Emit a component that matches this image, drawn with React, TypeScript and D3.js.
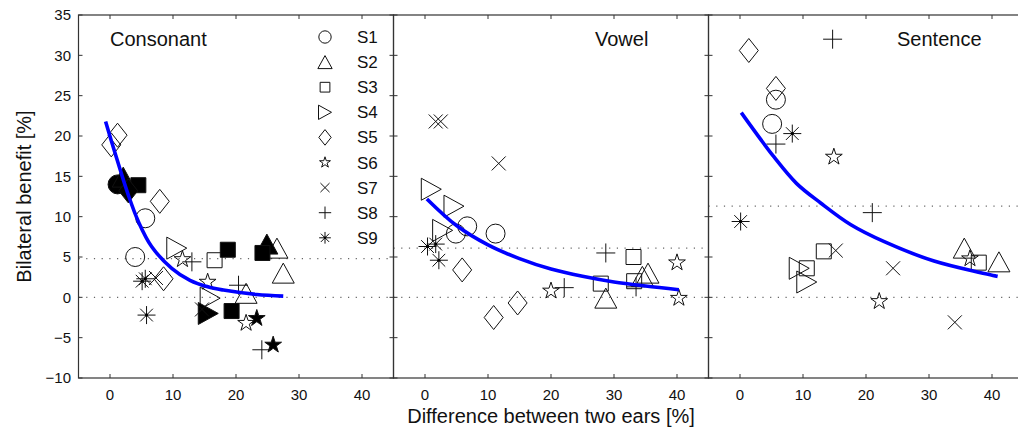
import { useEffect, useRef } from 'react';
import * as d3 from 'd3';

const subjects = ['S1', 'S2', 'S3', 'S4', 'S5', 'S6', 'S7', 'S8', 'S9'];
const shapes = ['circle', 'triUp', 'square', 'triRight', 'diamond', 'star', 'x', 'plus', 'asterisk'];
const panelTitles = ['Consonant', 'Vowel', 'Sentence'];
const xTicks = [0, 10, 20, 30, 40];
const yTicks = [-10, -5, 0, 5, 10, 15, 20, 25, 30, 35];
const refLevels = [4.8, 6.1, 11.3];

// [subject, difference, benefit, filled]
const consonantPoints: [string, number, number, boolean][] = [
    ['S1', 5.6, 9.8, false], ['S1', 4.0, 5.0, false], ['S1', 1.2, 14.0, true],
    ['S2', 26.5, 6.1, false], ['S2', 27.5, 3.0, false], ['S2', 21.6, 0.5, false], ['S2', 24.9, 6.6, true], ['S2', 2.1, 14.9, true],
    ['S3', 16.6, 4.6, false], ['S3', 18.7, 5.9, true], ['S3', 24.2, 5.5, true], ['S3', 19.3, -1.7, true], ['S3', 4.5, 13.9, true],
    ['S4', 10.6, 6.1, false], ['S4', 15.9, -0.1, false], ['S4', 15.6, -2.0, true],
    ['S5', 0.2, 18.9, false], ['S5', 1.2, 20.1, false], ['S5', 7.9, 11.9, false], ['S5', 8.5, 2.3, false], ['S5', 2.9, 13.2, true],
    ['S6', 11.5, 4.7, false], ['S6', 15.5, 1.9, false], ['S6', 21.6, -3.2, false], ['S6', 23.3, -2.6, true], ['S6', 25.9, -5.9, true],
    ['S7', 7.3, 2.4, false], ['S7', 14.6, -1.5, false],
    ['S8', 13.0, 4.4, false], ['S8', 20.4, 1.5, false], ['S8', 24.1, -6.5, false],
    ['S9', 5.1, 2.0, false], ['S9', 5.6, 2.3, false], ['S9', 5.8, -2.2, false],
];

const vowelPoints: [string, number, number, boolean][] = [
    ['S1', 6.7, 8.8, false], ['S1', 4.9, 7.9, false], ['S1', 11.2, 7.9, false],
    ['S2', 28.7, -0.1, false], ['S2', 35.4, 3.0, false], ['S2', 34.5, 2.6, false],
    ['S3', 33.1, 5.0, false], ['S3', 27.9, 1.7, false], ['S3', 33.2, 2.0, false],
    ['S4', 1.0, 13.4, false], ['S4', 4.6, 11.3, false], ['S4', 2.8, 8.3, false],
    ['S5', 5.9, 3.4, false], ['S5', 10.9, -2.5, false], ['S5', 14.7, -0.7, false],
    ['S6', 20.0, 0.8, false], ['S6', 40.0, 4.3, false], ['S6', 40.3, -0.1, false],
    ['S7', 1.7, 21.8, false], ['S7', 2.5, 21.8, false], ['S7', 11.7, 16.6, false],
    ['S8', 22.1, 1.2, false], ['S8', 28.7, 5.5, false], ['S8', 33.5, 1.3, false],
    ['S9', 0.4, 6.3, false], ['S9', 1.7, 6.6, false], ['S9', 2.2, 4.6, false],
];

const sentencePoints: [string, number, number, boolean][] = [
    ['S1', 5.7, 24.5, false], ['S1', 5.1, 21.5, false],
    ['S2', 35.6, 6.1, false], ['S2', 41.1, 4.4, false],
    ['S3', 13.3, 5.7, false], ['S3', 10.6, 3.6, false], ['S3', 37.9, 4.3, false],
    ['S4', 9.4, 3.6, false], ['S4', 10.6, 1.9, false],
    ['S5', 1.4, 30.6, false], ['S5', 5.7, 25.9, false],
    ['S6', 14.9, 17.4, false], ['S6', 22.1, -0.5, false], ['S6', 36.5, 4.8, false],
    ['S7', 15.2, 5.8, false], ['S7', 24.3, 3.6, false], ['S7', 34.1, -3.1, false],
    ['S8', 14.7, 32.0, false], ['S8', 5.7, 19.0, false], ['S8', 21.0, 10.5, false],
    ['S9', 8.3, 20.3, false], ['S9', 0.1, 9.4, false],
];

// fitted curves
const consonantFitX = [-0.7, 0.8, 2.9, 4.5, 6.6, 9.8, 12.7, 15.5, 18.0, 23.3, 27.5];
const consonantFitY = [21.8, 17.9, 12.7, 9.4, 6.3, 3.6, 2.1, 1.3, 0.9, 0.35, 0.15];
const vowelFitX = [0.3, 5, 10, 15, 20, 25, 30, 35, 40.3];
const vowelFitY = [12.2, 8.9, 6.5, 4.8, 3.5, 2.6, 1.9, 1.4, 0.95];
const sentenceFitX = [0.2, 5.4, 9, 12.8, 17.6, 22.9, 30.8, 40.9];
const sentenceFitY = [22.9, 17.4, 14.1, 11.7, 9.0, 6.9, 4.5, 2.6];

const panelPoints = [consonantPoints, vowelPoints, sentencePoints];
const panelFits = [
    [consonantFitX, consonantFitY],
    [vowelFitX, vowelFitY],
    [sentenceFitX, sentenceFitY],
];

const FONT = 'Liberation Sans, Arial, Helvetica, sans-serif';

const markerPath = (shape: string, s: number) => {
    const p = d3.path();
    switch (shape) {
        case 'circle':
            p.moveTo(9.5 * s, 0);
            p.arc(0, 0, 9.5 * s, 0, Math.PI * 2);
            break;
        case 'triUp':
            p.moveTo(0, -10 * s); p.lineTo(11 * s, 10 * s); p.lineTo(-11 * s, 10 * s); p.closePath();
            break;
        case 'triRight':
            p.moveTo(10 * s, 0); p.lineTo(-10 * s, 11 * s); p.lineTo(-10 * s, -11 * s); p.closePath();
            break;
        case 'square':
            p.rect(-7.5 * s, -7.5 * s, 15 * s, 15 * s);
            break;
        case 'diamond':
            p.moveTo(0, -12 * s); p.lineTo(9.5 * s, 0); p.lineTo(0, 12 * s); p.lineTo(-9.5 * s, 0); p.closePath();
            break;
        case 'star': {
            const R = 8.8 * s, r = R * 0.382;
            for (let i = 0; i < 10; i++) {
                const a = -Math.PI / 2 + (i * Math.PI) / 5;
                const rr = i % 2 === 0 ? R : r;
                if (i === 0) p.moveTo(rr * Math.cos(a), rr * Math.sin(a));
                else p.lineTo(rr * Math.cos(a), rr * Math.sin(a));
            }
            p.closePath();
            break;
        }
        case 'x':
            p.moveTo(-7 * s, -7 * s); p.lineTo(7 * s, 7 * s);
            p.moveTo(-7 * s, 7 * s); p.lineTo(7 * s, -7 * s);
            break;
        case 'plus':
            p.moveTo(-9.5 * s, 0); p.lineTo(9.5 * s, 0);
            p.moveTo(0, -9.5 * s); p.lineTo(0, 9.5 * s);
            break;
        case 'asterisk': {
            const d = 9 * s, e = d * 0.707;
            p.moveTo(-d, 0); p.lineTo(d, 0);
            p.moveTo(0, -d); p.lineTo(0, d);
            p.moveTo(-e, -e); p.lineTo(e, e);
            p.moveTo(-e, e); p.lineTo(e, -e);
            break;
        }
    }
    return p.toString();
};

const App = () => {
    const ref = useRef<SVGSVGElement>(null);
    const width = 1018,
        height = 435;
    const left = 78.5,
        panelW = 315,
        top = 15,
        bottom = 378;

    useEffect(() => {
        const svg = d3.select(ref.current).attr('width', width).attr('height', height);
        svg.selectAll('*').remove();

        const y = d3.scaleLinear().domain([-10, 35]).range([bottom, top]);

        panelTitles.forEach((title, pi) => {
            const x0 = left + pi * panelW;
            const x = d3.scaleLinear().domain([-5, 45]).range([x0, x0 + panelW]);
            const g = svg.append('g');

            // dotted reference lines
            [0, refLevels[pi]].forEach((lv) => {
                g.append('line')
                    .attr('x1', x0).attr('x2', x0 + panelW)
                    .attr('y1', y(lv)).attr('y2', y(lv))
                    .attr('stroke', '#666')
                    .attr('stroke-width', 1.2)
                    .attr('stroke-dasharray', '1.2,6.5');
            });

            // markers
            panelPoints[pi].forEach(([sub, dx, dy, filled]) => {
                const shape = shapes[subjects.indexOf(sub)];
                g.append('path')
                    .attr('d', markerPath(shape, 1))
                    .attr('transform', `translate(${x(dx)},${y(dy)})`)
                    .attr('fill', filled ? '#000' : 'none')
                    .attr('stroke', '#111')
                    .attr('stroke-width', 1);
                if (shape === 'asterisk') {
                    g.append('circle').attr('cx', x(dx)).attr('cy', y(dy)).attr('r', 1.6).attr('fill', '#000');
                }
            });

            // fitted curve
            const [fx, fy] = panelFits[pi];
            const line = d3.line<number>()
                .x((d) => x(d))
                .y((_, i) => y(fy[i]))
                .curve(d3.curveCatmullRom.alpha(0.5));
            g.append('path')
                .attr('d', line(fx))
                .attr('fill', 'none')
                .attr('stroke', '#0000ff')
                .attr('stroke-width', 3.6);

            // frame
            g.append('rect')
                .attr('x', x0).attr('y', top)
                .attr('width', panelW).attr('height', bottom - top)
                .attr('fill', 'none')
                .attr('stroke', '#333')
                .attr('stroke-width', 1.2);

            // ticks
            xTicks.forEach((t) => {
                g.append('line').attr('x1', x(t)).attr('x2', x(t)).attr('y1', bottom).attr('y2', bottom - 4).attr('stroke', '#333');
                g.append('line').attr('x1', x(t)).attr('x2', x(t)).attr('y1', top).attr('y2', top + 4).attr('stroke', '#333');
                g.append('text')
                    .attr('x', x(t)).attr('y', 400)
                    .attr('text-anchor', 'middle')
                    .attr('font-family', FONT).attr('font-size', 15)
                    .attr('fill', '#111')
                    .text(t);
            });
            yTicks.forEach((t) => {
                g.append('line').attr('x1', x0).attr('x2', x0 + 4).attr('y1', y(t)).attr('y2', y(t)).attr('stroke', '#333');
                g.append('line').attr('x1', x0 + panelW).attr('x2', x0 + panelW - 4).attr('y1', y(t)).attr('y2', y(t)).attr('stroke', '#333');
            });

            // title
            const titleX = [110, 595, 897];
            g.append('text')
                .attr('x', titleX[pi]).attr('y', 46)
                .attr('font-family', FONT).attr('font-size', 20)
                .attr('fill', '#111')
                .text(title);
        });

        // y tick labels
        yTicks.forEach((t) => {
            svg.append('text')
                .attr('x', 71).attr('y', y(t) + 5.4)
                .attr('text-anchor', 'end')
                .attr('font-family', FONT).attr('font-size', 15)
                .attr('fill', '#111')
                .text(t < 0 ? `\u2212${-t}` : t);
        });

        // axis labels
        svg.append('text')
            .attr('x', left + panelW * 1.5).attr('y', 423)
            .attr('text-anchor', 'middle')
            .attr('font-family', FONT).attr('font-size', 20)
            .attr('fill', '#111')
            .text('Difference between two ears [%]');
        svg.append('text')
            .attr('transform', `translate(31,${(top + bottom) / 2}) rotate(-90)`)
            .attr('text-anchor', 'middle')
            .attr('font-family', FONT).attr('font-size', 20)
            .attr('fill', '#111')
            .text('Bilateral benefit [%]');

        // legend
        const legend = svg.append('g');
        subjects.forEach((s, i) => {
            const ly = 37 + i * 25.1;
            legend.append('path')
                .attr('d', markerPath(shapes[i], 0.65))
                .attr('transform', `translate(325,${ly})`)
                .attr('fill', 'none')
                .attr('stroke', '#111')
                .attr('stroke-width', 1);
            if (shapes[i] === 'asterisk') {
                legend.append('circle').attr('cx', 325).attr('cy', ly).attr('r', 1.3).attr('fill', '#000');
            }
            legend.append('text')
                .attr('x', 357).attr('y', ly + 6)
                .attr('font-family', FONT).attr('font-size', 17)
                .attr('fill', '#111')
                .text(s);
        });
    }, []);

    return (
        <svg
            ref={ref}
            style={{ position: 'absolute', left: 0, top: 0, background: '#fff' }}
        ></svg>
    );
};

export default App;
